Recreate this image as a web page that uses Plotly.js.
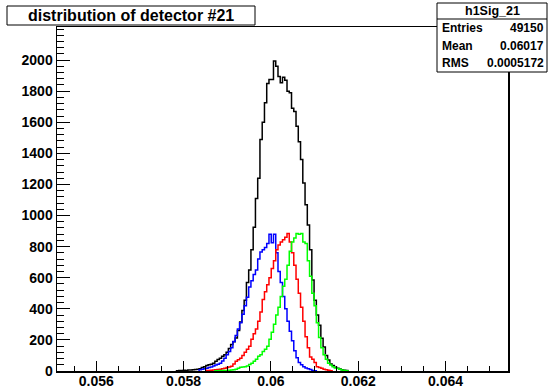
<!DOCTYPE html>
<html>
<head>
<meta charset="utf-8">
<script src="https://cdn.plot.ly/plotly-3.0.1.min.js"></script>
<style>
  html, body { margin: 0; padding: 0; background: #ffffff; }
  #chart { width: 549px; height: 388px; }
</style>
</head>
<body>
<div id="chart"></div>
<script>
// Histogram binning (axis range of the histogram)
const xMin = 0.0551;
const xMax = 0.06543;
const nBins = 200;

// Tick values
const xTickValues = [0.056, 0.058, 0.060, 0.062, 0.064];
const yTickValues = [0, 200, 400, 600, 800, 1000, 1200, 1400, 1600, 1800, 2000];

// Series: h1Sig_21 (black, all entries)
const blackFirstBin = 53;
const blackCounts = [
  2, 4, 3, 5, 4, 7, 6, 8, 10, 12,
  15, 22, 28, 36, 40, 44, 50, 62, 74, 82,
  95, 105, 120, 145, 170, 188, 212, 260, 315, 390,
  455, 570, 650, 780, 925, 1110, 1240, 1490, 1600, 1725,
  1850, 1875, 1875, 1995, 1960, 1895, 1855, 1890, 1870, 1800,
  1790, 1690, 1670, 1575, 1475, 1360, 1210, 1070, 940, 780,
  585, 455, 360, 295, 210, 155, 100, 70, 45, 35,
  24, 18, 13, 8, 5, 3
];

// Blue sub-sample
const blueFirstBin = 63;
const blueCounts = [
  8, 12, 15, 18, 22, 26, 32, 38, 44, 50,
  65, 82, 105, 125, 150, 190, 228, 270, 310, 365,
  420, 475, 540, 580, 620, 650, 720, 765, 780, 795,
  820, 880, 825, 880, 760, 640, 570, 480, 400, 320,
  255, 195, 130, 85, 55, 40, 28, 20, 14, 9,
  4, 2
];

// Red sub-sample
const redFirstBin = 66;
const redCounts = [
  3, 4, 5, 6, 8, 10, 12, 15, 18, 22,
  26, 30, 45, 62, 72, 82, 100, 120, 140, 160,
  205, 240, 270, 320, 380, 460, 510, 555, 600, 660,
  710, 780, 810, 830, 845, 860, 885, 830, 760, 680,
  590, 500, 410, 320, 220, 150, 90, 75, 55, 28,
  22, 17, 12, 8, 5, 2
];

// Green sub-sample
const greenFirstBin = 70;
const greenCounts = [
  2, 2, 3, 3, 4, 4, 5, 6, 8, 11,
  18, 24, 26, 28, 32, 42, 50, 62, 75, 95,
  105, 125, 140, 160, 205, 250, 300, 360, 410, 480,
  545, 590, 680, 770, 830, 855, 885, 880, 885, 830,
  820, 710, 610, 500, 420, 310, 215, 150, 105, 75,
  50, 38, 28, 20, 16, 12, 7, 4, 2
];

// Stats box texts
const statsName = "h1Sig_21";
const statsLabels = ["Entries", "Mean", "RMS"];
const statsValues = ["49150", "0.06017", "0.0005172"];
const titleText = "distribution of detector #21";

// ---------- build ----------
const binWidth = (xMax - xMin) / nBins;
function edge(k) { return xMin + k * binWidth; }

function histTrace(firstBin, counts, color) {
  const xs = [edge(firstBin)];
  const ys = [0];
  for (let i = 0; i < counts.length; i++) {
    xs.push(edge(firstBin + i));
    ys.push(counts[i]);
  }
  xs.push(edge(firstBin + counts.length));
  ys.push(0);
  return {
    type: 'scatter', mode: 'lines', x: xs, y: ys,
    line: { shape: 'hv', color: color, width: 1.5 },
    hoverinfo: 'skip'
  };
}

const data = [
  histTrace(blackFirstBin, blackCounts, '#000000'),
  histTrace(blueFirstBin, blueCounts, '#0000ff'),
  histTrace(redFirstBin, redCounts, '#ff0000'),
  histTrace(greenFirstBin, greenCounts, '#00ff00')
];

// plot area in pixels
const W = 549, H = 388;
const mL = 57, mR = 41, mT = 27, mB = 17;
const plotW = W - mL - mR, plotH = H - mT - mB;
function px(x) { return (x - mL) / plotW; }
function py(y) { return (H - mB - y) / plotH; }

const font = 'Liberation Sans, Arial, Helvetica, sans-serif';

const shapes = [
  // title box
  { type: 'rect', xref: 'paper', yref: 'paper', x0: px(7), x1: px(255), y0: py(25), y1: py(6),
    line: { color: '#000', width: 1 }, fillcolor: '#fff' },
  // stats box
  { type: 'rect', xref: 'paper', yref: 'paper', x0: px(437), x1: px(547), y0: py(72), y1: py(3),
    line: { color: '#000', width: 1 }, fillcolor: '#fff' },
  { type: 'line', xref: 'paper', yref: 'paper', x0: px(437), x1: px(547), y0: py(19), y1: py(19),
    line: { color: '#000', width: 1 } }
];

const annotations = [
  { xref: 'paper', yref: 'paper', x: px(131), y: py(16), text: titleText, showarrow: false,
    xanchor: 'center', yanchor: 'middle', font: { family: font, size: 16, weight: 'bold', color: '#000' } },
  { xref: 'paper', yref: 'paper', x: px(492), y: py(11), text: statsName, showarrow: false,
    xanchor: 'center', yanchor: 'middle', font: { family: font, size: 12.5, weight: 'bold', color: '#000' } }
];
const rowY = [28, 46, 63];
for (let i = 0; i < statsLabels.length; i++) {
  annotations.push({ xref: 'paper', yref: 'paper', x: px(440), y: py(rowY[i]), text: statsLabels[i],
    showarrow: false, xanchor: 'left', yanchor: 'middle',
    font: { family: font, size: 12, weight: 'bold', color: '#000' } });
  annotations.push({ xref: 'paper', yref: 'paper', x: px(546), y: py(rowY[i]), text: statsValues[i],
    showarrow: false, xanchor: 'right', yanchor: 'middle',
    font: { family: font, size: 12, weight: 'bold', color: '#000' } });
}

const layout = {
  width: W, height: H,
  margin: { l: mL, r: mR, t: mT, b: mB, pad: 0 },
  paper_bgcolor: '#ffffff', plot_bgcolor: '#ffffff',
  showlegend: false,
  hovermode: false,
  xaxis: {
    range: [xMin, xMax],
    tickmode: 'array', tickvals: xTickValues,
    ticktext: xTickValues.map(v => String(+v.toFixed(3))),
    ticks: 'inside', ticklen: 10, tickwidth: 1, tickcolor: '#000',
    ticklabelstandoff: -3,
    minor: { dtick: 0.0005, tick0: 0, ticks: 'inside', ticklen: 5, tickwidth: 1, tickcolor: '#000', showgrid: false },
    showline: true, linecolor: '#000', linewidth: 1.5, mirror: true,
    showgrid: false, zeroline: false,
    tickfont: { family: font, size: 14, weight: 'bold', color: '#000' }
  },
  yaxis: {
    range: [0, 2213],
    tickmode: 'array', tickvals: yTickValues,
    ticks: 'inside', ticklen: 13, tickwidth: 1, tickcolor: '#000',
    minor: { dtick: 40, tick0: 0, ticks: 'inside', ticklen: 7, tickwidth: 1, tickcolor: '#000', showgrid: false },
    showline: true, linecolor: '#000', linewidth: 1.5, mirror: true,
    showgrid: false, zeroline: false,
    tickfont: { family: font, size: 14, weight: 'bold', color: '#000' }
  },
  shapes: shapes,
  annotations: annotations
};

Plotly.newPlot('chart', data, layout, { staticPlot: true, displayModeBar: false });
</script>
</body>
</html>
